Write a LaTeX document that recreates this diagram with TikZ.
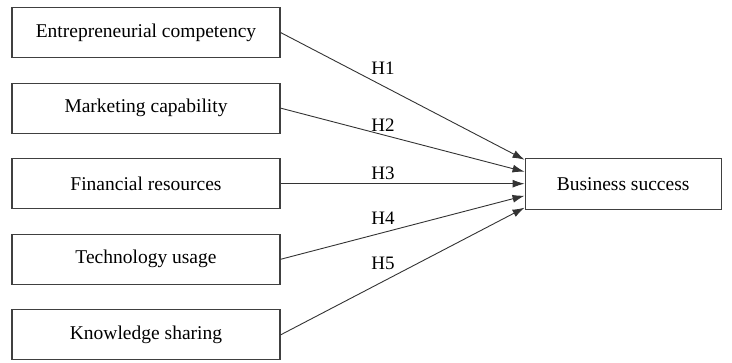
\documentclass[tikz,border=0pt]{standalone}
\usepackage{fontspec}
\setmainfont{Liberation Serif}
\usepackage{tikz}
\usetikzlibrary{arrows.meta, positioning}

\begin{document}
\begin{tikzpicture}[
            x=1pt, y=1pt,
            node distance=24.5pt,
            factor/.style={rectangle, draw=black!75, line width=1.1pt, fill=white, minimum width=268pt, minimum height=50pt, align=center, font=\fontsize{19.5}{23}\selectfont},
            path/.style={draw=black!80, line width=0.9pt, -{Latex[length=12pt, width=8pt]}},
            hyp/.style={above, pos=0.42, font=\fontsize{19}{22}\selectfont}
        ]
        \useasboundingbox (0,0) rectangle (732,-362);

        % --- Predictors ---
        \node[factor] (ec) at (146,-32.5) {Entrepreneurial competency};
        \node[factor, below=of ec] (mc) {Marketing capability};
        \node[factor, below=of mc] (fr) {Financial resources};
        \node[factor, below=of fr] (tu) {Technology usage};
        \node[factor, below=of tu] (ks) {Knowledge sharing};

        % --- Outcome ---
        \node[factor, minimum width=196pt, minimum height=51pt, right=244pt of fr] (bs) {Business success};

        % --- Hypotheses ---
        \draw[path] (ec.east) -- node[hyp, yshift=8pt] {H1} ([yshift=24pt]bs.west);
        \draw[path] (mc.east) -- node[hyp] {H2} ([yshift=12pt]bs.west);
        \draw[path] (fr.east) -- node[hyp] {H3} (bs.west);
        \draw[path] (tu.east) -- node[hyp, yshift=4pt] {H4} ([yshift=-12pt]bs.west);
        \draw[path] (ks.east) -- node[hyp, yshift=8pt] {H5} ([yshift=-24pt]bs.west);

\end{tikzpicture}
\end{document}
